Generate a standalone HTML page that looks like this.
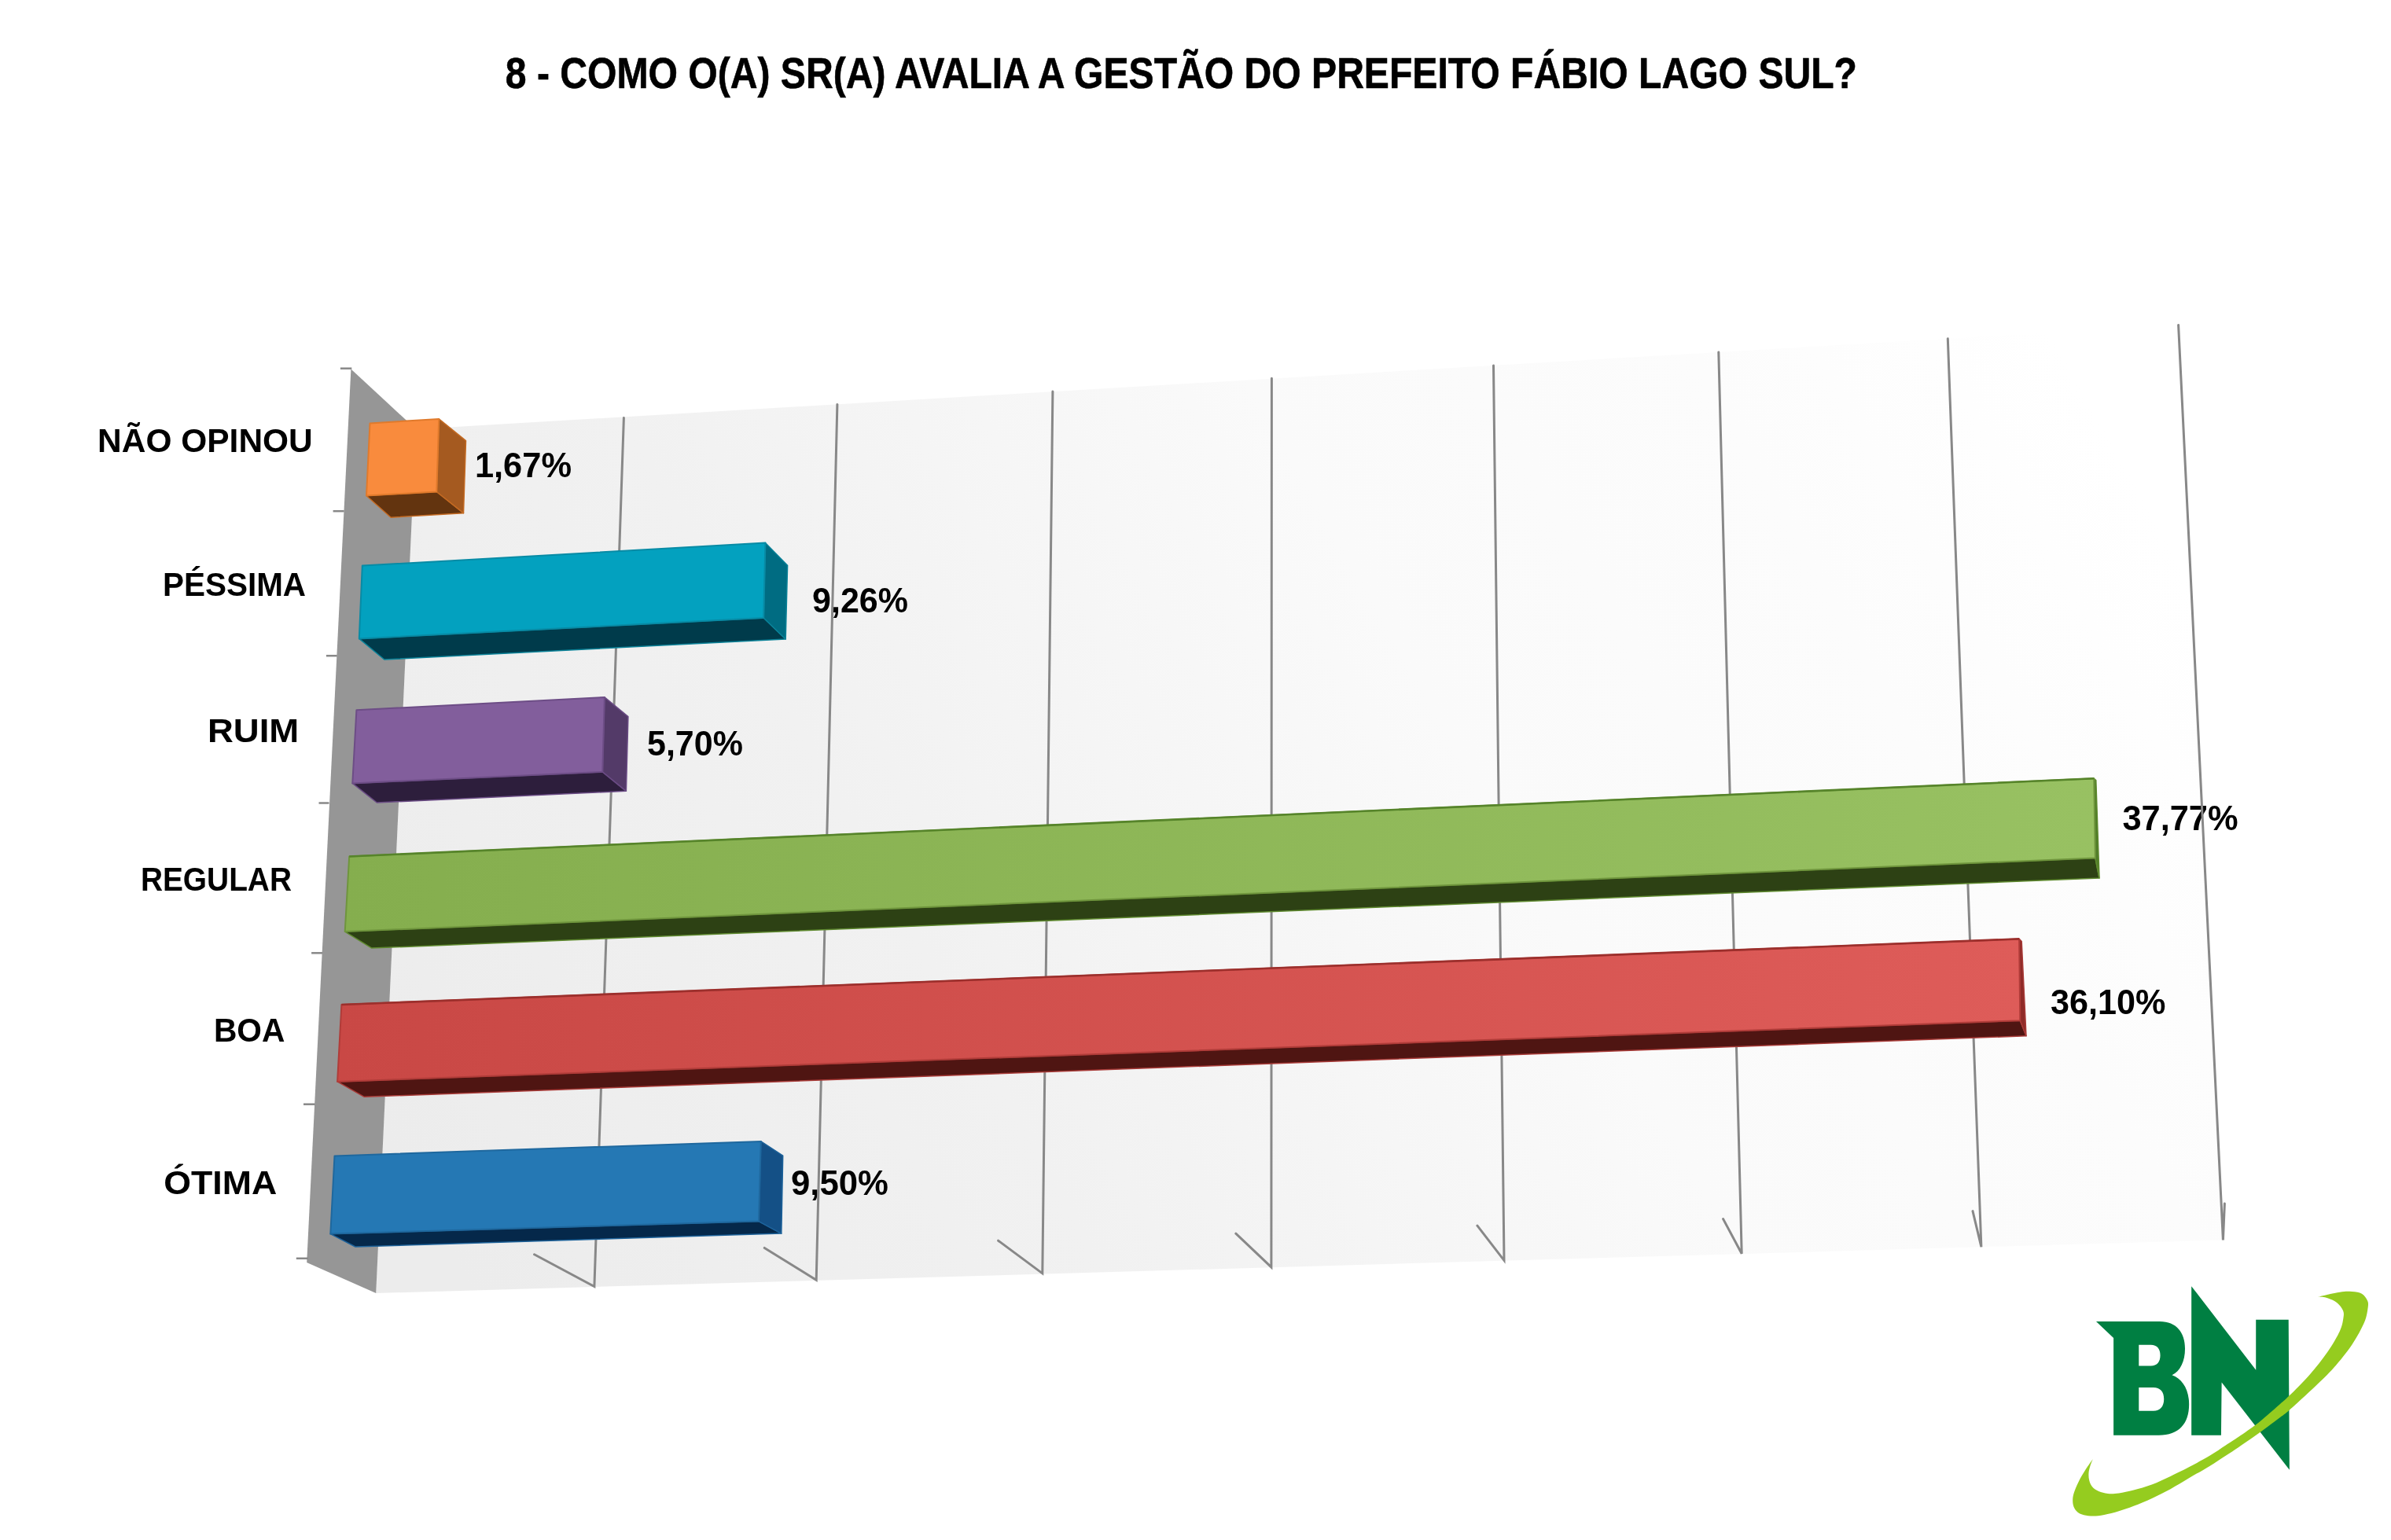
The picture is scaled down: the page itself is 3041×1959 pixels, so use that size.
<!DOCTYPE html>
<html lang="pt-BR">
<head>
<meta charset="utf-8">
<title>8 - Como o(a) sr(a) avalia a gestão do prefeito Fábio Lago Sul?</title>
<style>
  html, body { margin: 0; padding: 0; background: #ffffff; }
  body { width: 3041px; height: 1959px; overflow: hidden; }
  svg { display: block; }
  text { font-family: "Liberation Sans", sans-serif; font-weight: bold; fill: #000000; }
  .title { font-size: 55px; stroke: #000; stroke-width: 0.6px; }
  .lbl { font-size: 42.8px; }
  .val { font-size: 44px; }
  .grid { stroke: #888888; stroke-width: 3; fill: none; stroke-linecap: round; }
  .tick { stroke: #888888; stroke-width: 2.5; fill: none; }
</style>
</head>
<body>
<svg width="3041" height="1959" viewBox="0 0 3041 1959">
  <defs>
    <filter id="noLcd" x="-5%" y="-5%" width="110%" height="110%"><feOffset dx="0" dy="0"/></filter>
    <linearGradient id="wallGrad" gradientUnits="userSpaceOnUse" x1="520" y1="1500" x2="2567" y2="350">
      <stop offset="0" stop-color="#ececec"/>
      <stop offset="0.304" stop-color="#f1f1f1"/>
      <stop offset="0.609" stop-color="#fafafa"/>
      <stop offset="0.826" stop-color="#fcfcfc"/>
      <stop offset="1" stop-color="#ffffff"/>
    </linearGradient>
    <linearGradient id="gGreen" gradientUnits="userSpaceOnUse" x1="440" y1="0" x2="2665" y2="0">
      <stop offset="0" stop-color="#85ae4e"/>
      <stop offset="1" stop-color="#98c162"/>
    </linearGradient>
    <linearGradient id="gRed" gradientUnits="userSpaceOnUse" x1="430" y1="0" x2="2572" y2="0">
      <stop offset="0" stop-color="#c94845"/>
      <stop offset="1" stop-color="#de5c59"/>
    </linearGradient>
  </defs>

  <rect x="0" y="0" width="3041" height="1959" fill="#ffffff"/>

  <!-- TITLE -->
  <text class="title" x="642.8" y="111.7" textLength="1719.2" lengthAdjust="spacingAndGlyphs">8 - COMO O(A) SR(A) AVALIA A GESTÃO DO PREFEITO FÁBIO LAGO SUL?</text>

  <!-- BACK WALL -->
  <g id="backwall">
    <polygon points="529,546 2770.6,413.4 2827.4,1577.4 478.1,1645" fill="url(#wallGrad)"/>
  </g>

  <!-- VALUE LABELS -->
  <g id="vals" class="lbl val" filter="url(#noLcd)">
    <text x="603.9" y="607.2" textLength="123.1" lengthAdjust="spacingAndGlyphs">1,67%</text>
    <text x="1033.1" y="779.0" textLength="121.9" lengthAdjust="spacingAndGlyphs">9,26%</text>
    <text x="823.0" y="961.0" textLength="121.9" lengthAdjust="spacingAndGlyphs">5,70%</text>
    <text x="2699.4" y="1055.6" textLength="147.2" lengthAdjust="spacingAndGlyphs">37,77%</text>
    <text x="2608.0" y="1289.8" textLength="146.4" lengthAdjust="spacingAndGlyphs">36,10%</text>
    <text x="1006.0" y="1519.8" textLength="123.9" lengthAdjust="spacingAndGlyphs">9,50%</text>
  </g>

  <!-- GRIDLINES -->
  <g id="gridlines" class="grid">
    <polyline points="793.4,531.5 755.9,1636.6 679.6,1595.8"/>
    <polyline points="1064.9,514.4 1038.2,1628.3 972.3,1587.4"/>
    <polyline points="1338.9,497.9 1325.8,1619.9 1269.6,1578.2"/>
    <polyline points="1617.4,481.3 1616.9,1611.9 1571.8,1569.2"/>
    <polyline points="1899.5,464.9 1913,1603.3 1878.9,1559.2"/>
    <polyline points="2185.8,447.9 2215.2,1594.8 2191.6,1550.6"/>
    <polyline points="2477.3,430.7 2519.9,1586.2 2509,1540.6"/>
    <polyline points="2770.6,413.4 2827.4,1577.4 2829.4,1531"/>
  </g>

  <!-- SIDE WALL -->
  <g id="sidewall">
    <polygon points="446.4,469.5 529,546 478.2,1645.1 390.2,1605.9" fill="#969696"/>
  </g>

  <!-- LEFT AXIS TICKS -->
  <g id="ticks" class="tick">
    <line x1="432.9" y1="468.7" x2="447.3" y2="468.7"/>
    <line x1="423.6" y1="650.2" x2="437.6" y2="650.2"/>
    <line x1="414.9" y1="834.2" x2="428.7" y2="834.2"/>
    <line x1="405.5" y1="1021.5" x2="418.5" y2="1021.5"/>
    <line x1="396.1" y1="1212.3" x2="410" y2="1212.3"/>
    <line x1="386" y1="1404.7" x2="400.6" y2="1404.7"/>
    <line x1="376.8" y1="1600.8" x2="391.8" y2="1600.8"/>
  </g>

  <!-- BARS -->
  <g id="bars" stroke-linejoin="round">
    <!-- NÃO OPINOU (orange) -->
    <g id="bar-orange">
      <polygon points="466,630.5 555.3,625.5 589.5,652.7 497.1,658.2" fill="#63340f" stroke="#c46a22" stroke-width="1.5"/>
      <polygon points="558.2,532.9 592.5,560.7 589.5,652.7 555.3,625.5" fill="#a55a20" stroke="#c46a22" stroke-width="1.5"/>
      <polygon points="470.5,538.5 558.2,532.9 555.3,625.5 466,630.5" fill="#f98b3d" stroke="#e07a2c" stroke-width="2"/>
    </g>
    <!-- PÉSSIMA (teal) -->
    <g id="bar-teal">
      <polygon points="456.8,812.4 971.2,786 999.2,813 488.8,839" fill="#003b4b" stroke="#0a8298" stroke-width="1.5"/>
      <polygon points="973.4,690.5 1001.6,719.2 999.2,813 971.2,786" fill="#006c82" stroke="#0a8298" stroke-width="1.5"/>
      <polygon points="460.8,719.6 973.4,690.5 971.2,786 456.8,812.4" fill="#03a1bf" stroke="#088ba5" stroke-width="2"/>
    </g>
    <!-- RUIM (purple) -->
    <g id="bar-purple">
      <polygon points="448.3,996.4 766.3,981.9 796.4,1006.3 479.3,1021" fill="#2d1e3c" stroke="#6a4b84" stroke-width="1.5"/>
      <polygon points="768.9,886.9 798.9,911.6 796.4,1006.3 766.3,981.9" fill="#533a68" stroke="#6a4b84" stroke-width="1.5"/>
      <polygon points="453.4,903.2 768.9,886.9 766.3,981.9 448.3,996.4" fill="#825e9c" stroke="#6d4d86" stroke-width="2"/>
    </g>
    <!-- REGULAR (green) -->
    <g id="bar-green">
      <polygon points="438.7,1185.1 2664.9,1091.4 2670,1117 472.8,1206.1" fill="#2d4114" stroke="#5f8a2f" stroke-width="1.5"/>
      <polygon points="2663.2,990.3 2665.8,992.6 2670,1117 2664.9,1091.4" fill="#4f7c28" stroke="#5f8a2f" stroke-width="1.5"/>
      <polygon points="444.2,1089.5 2663.2,990.3 2664.9,1091.4 438.7,1185.1" fill="url(#gGreen)" stroke="#6f953d" stroke-width="2"/>
      <line x1="444.2" y1="1089.5" x2="2663.2" y2="990.3" stroke="#56842a" stroke-width="2.6"/>
    </g>
    <!-- BOA (red) -->
    <g id="bar-red">
      <polygon points="429.1,1375.9 2569.3,1298.3 2577,1317.8 463.3,1395.3" fill="#4f1512" stroke="#a83a37" stroke-width="1.5"/>
      <polygon points="2568.1,1194.4 2571.2,1197.5 2577,1317.8 2569.3,1298.3" fill="#8f2b28" stroke="#a83a37" stroke-width="1.5"/>
      <polygon points="434.4,1278 2568.1,1194.4 2569.3,1298.3 429.1,1375.9" fill="url(#gRed)" stroke="#b03c39" stroke-width="2"/>
      <line x1="434.4" y1="1278" x2="2568.1" y2="1194.4" stroke="#9c2f2c" stroke-width="2.6"/>
    </g>
    <!-- ÓTIMA (blue) -->
    <g id="bar-blue">
      <polygon points="420.3,1569.6 965,1553.6 993.8,1569.1 452,1586" fill="#05284a" stroke="#1d629a" stroke-width="1.5"/>
      <polygon points="967.8,1451.9 995.7,1470.1 993.8,1569.1 965,1553.6" fill="#145086" stroke="#1d629a" stroke-width="1.5"/>
      <polygon points="425.5,1470.4 967.8,1451.9 965,1553.6 420.3,1569.6" fill="#2578b4" stroke="#1f689e" stroke-width="2"/>
    </g>
  </g>

  <!-- CATEGORY LABELS -->
  <g id="cats" class="lbl" filter="url(#noLcd)">
    <text x="124.1" y="575.0" textLength="273.7" lengthAdjust="spacingAndGlyphs">NÃO OPINOU</text>
    <text x="207.0" y="757.5" textLength="182.1" lengthAdjust="spacingAndGlyphs">PÉSSIMA</text>
    <text x="263.9" y="943.8" textLength="116.3" lengthAdjust="spacingAndGlyphs">RUIM</text>
    <text x="178.9" y="1132.7" textLength="192.1" lengthAdjust="spacingAndGlyphs">REGULAR</text>
    <text x="271.9" y="1325.0" textLength="90.5" lengthAdjust="spacingAndGlyphs">BOA</text>
    <text x="208.3" y="1519.0" textLength="144.0" lengthAdjust="spacingAndGlyphs">ÓTIMA</text>
  </g>


  <!-- LOGO -->
  <g id="logo" transform="translate(2600,1600) scale(0.233089)">
    <!-- letter B -->
    <path fill="#007f42" fill-rule="evenodd" d="M283,348 L630,348 C722,348 768,410 768,495 C768,565 742,618 697,640 C752,660 790,715 790,800 C790,905 735,968 625,968 L378,968 L378,438 Z
      M516,475 L516,590 L582,590 C615,590 633,568 633,532 C633,496 615,475 582,475 Z
      M516,708 L516,835 L596,835 C632,835 653,812 653,771 C653,730 632,708 596,708 Z"/>
    <!-- letter N -->
    <path fill="#007f42" d="M803,155 L1155,612 L1155,338 L1333,338 L1338,1157 L968,680 L965,968 L803,968 Z"/>
  </g>
  <!-- logo swoosh -->
  <path id="swoosh" fill="#95cc1f" d="M2661.9,1855.9 C2660.4,1858.1 2655.9,1864.1 2652.8,1869.0 C2649.7,1873.9 2645.9,1880.3 2643.4,1885.4 C2640.9,1890.5 2638.8,1895.6 2637.6,1899.5 C2636.4,1903.4 2636.2,1905.9 2636.2,1908.8 C2636.2,1911.7 2636.6,1914.5 2637.6,1917.0 C2638.6,1919.5 2640.2,1921.8 2642.3,1923.5 C2644.4,1925.2 2647.1,1926.5 2650.4,1927.3 C2653.7,1928.1 2657.9,1928.5 2662.2,1928.5 C2666.5,1928.5 2670.8,1928.0 2676.2,1927.0 C2681.6,1926.0 2688.7,1924.2 2694.9,1922.3 C2701.2,1920.4 2706.7,1918.5 2713.7,1915.8 C2720.7,1913.1 2729.3,1909.5 2737.1,1905.9 C2744.9,1902.3 2752.7,1898.5 2760.5,1894.2 C2768.3,1889.9 2775.7,1885.2 2784.0,1880.3 C2792.3,1875.4 2802.6,1869.7 2810.4,1864.9 C2818.2,1860.2 2824.7,1855.8 2830.8,1851.8 C2836.9,1847.8 2841.3,1844.9 2847.2,1840.9 C2853.1,1836.9 2859.9,1832.3 2866.0,1828.0 C2872.1,1823.7 2878.3,1819.2 2884.0,1815.0 C2889.7,1810.8 2895.3,1806.6 2900.0,1803.0 C2904.7,1799.4 2904.6,1800.1 2912.0,1793.5 C2919.4,1786.9 2935.3,1772.3 2944.7,1763.4 C2954.0,1754.5 2960.3,1748.8 2968.1,1740.0 C2975.9,1731.2 2984.9,1720.0 2991.4,1710.4 C2997.9,1700.8 3003.6,1690.2 3007.0,1682.3 C3010.4,1674.4 3011.0,1667.6 3011.7,1662.9 C3012.3,1658.2 3012.2,1657.2 3010.9,1654.3 C3009.6,1651.4 3007.2,1647.6 3003.9,1645.7 C3000.7,1643.8 2996.1,1643.4 2991.4,1643.1 C2986.7,1642.8 2983.2,1642.6 2975.9,1643.7 C2968.6,1644.8 2952.5,1648.6 2947.8,1649.6 C2949.9,1649.9 2956.2,1649.9 2960.3,1651.2 C2964.5,1652.5 2969.4,1654.8 2972.7,1657.4 C2975.9,1660.0 2978.5,1663.7 2979.8,1666.8 C2981.1,1669.9 2981.2,1671.7 2980.5,1676.1 C2979.8,1680.5 2979.3,1686.0 2975.9,1693.3 C2972.5,1700.6 2966.8,1710.4 2960.3,1719.8 C2953.8,1729.2 2945.0,1740.2 2936.9,1749.4 C2928.8,1758.6 2918.2,1769.0 2912.0,1775.1 C2905.8,1781.2 2904.7,1781.8 2900.0,1786.0 C2895.3,1790.2 2889.1,1795.6 2884.0,1800.0 C2878.9,1804.4 2875.4,1807.6 2869.3,1812.2 C2863.2,1816.8 2853.6,1823.4 2847.2,1827.8 C2840.8,1832.2 2836.9,1834.5 2830.8,1838.5 C2824.7,1842.5 2818.2,1847.2 2810.4,1851.8 C2802.6,1856.4 2792.3,1861.9 2784.0,1866.3 C2775.7,1870.7 2768.4,1874.2 2760.5,1877.9 C2752.6,1881.6 2744.6,1885.6 2736.8,1888.6 C2729.0,1891.5 2720.7,1893.8 2713.7,1895.6 C2706.7,1897.4 2700.5,1898.8 2695.0,1899.5 C2689.5,1900.2 2685.2,1900.4 2680.9,1900.0 C2676.6,1899.6 2672.5,1898.5 2669.2,1897.1 C2665.9,1895.6 2663.0,1893.6 2661.0,1891.3 C2659.0,1889.0 2657.9,1886.0 2657.2,1883.1 C2656.4,1880.2 2656.3,1876.8 2656.5,1873.7 C2656.7,1870.6 2657.7,1867.3 2658.6,1864.3 C2659.5,1861.3 2661.3,1857.3 2661.9,1855.9 Z"/>
</svg>
</body>
</html>
